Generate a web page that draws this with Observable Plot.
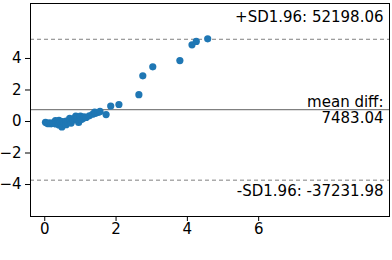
<!DOCTYPE html>
<html>
<head>
<meta charset="utf-8">
<script src="https://cdn.jsdelivr.net/npm/d3@7"></script>
<script src="https://cdn.jsdelivr.net/npm/@observablehq/plot@0.6"></script>
<style>
  html, body { margin: 0; padding: 0; background: #fff; }
</style>
</head>
<body>
<div id="chart"></div>
<script>
// Bland-Altman style data (values in units of 1e4)
const meanVals = [0.02, 0.06, 0.10, 0.14, 0.18, 0.22, 0.27, 0.30, 0.31, 0.36, 0.40, 0.40, 0.44, 0.47, 0.48, 0.50, 0.55, 0.60, 0.60, 0.65, 0.70, 0.70, 0.74, 0.79, 0.84, 0.87, 0.90, 0.94, 0.95, 0.98, 1.00, 1.03, 1.08, 1.10, 1.16, 1.25, 1.34, 1.40, 1.42, 1.50, 1.55, 1.72, 1.85, 2.08, 2.64, 2.75, 3.03, 3.79, 4.13, 4.25, 4.57];
const diffVals = [-0.05, -0.10, -0.14, -0.08, -0.15, -0.10, -0.05, 0.05, -0.16, -0.12, 0.08, -0.22, -0.02, -0.20, -0.35, 0.00, -0.10, 0.02, -0.20, -0.04, 0.06, 0.20, -0.10, 0.10, 0.22, 0.34, 0.18, 0.08, -0.06, 0.16, 0.35, 0.12, 0.20, 0.30, 0.26, 0.36, 0.46, 0.60, 0.52, 0.57, 0.64, 0.44, 0.98, 1.08, 1.70, 2.90, 3.47, 3.87, 4.87, 5.08, 5.25];

const meanDiff = 0.748304;
const upperLoA = 5.219806;
const lowerLoA = -3.723198;

const lineValues = [upperLoA, meanDiff, lowerLoA];
const lineDash = ["4,3", null, "4,3"];
const lineLabels = ["+SD1.96: 52198.06", "mean diff:\n7483.04", "-SD1.96: -37231.98"];
const labelOffsets = [-23, 0, 11];

const xTicks = [0, 2, 4, 6];
const yTicks = [-4, -2, 0, 2, 4];

const points = meanVals.map((m, i) => ({x: m, y: diffVals[i]}));
const lines = lineValues.map((v, i) => ({y: v, dash: lineDash[i], label: lineLabels[i], dy: labelOffsets[i]}));

const chart = Plot.plot({
  width: 392,
  height: 260,
  marginLeft: 30,
  marginRight: 3,
  marginTop: 3,
  marginBottom: 44,
  style: {fontFamily: "DejaVu Sans", fontSize: "15px", color: "#000", background: "#fff"},
  x: {domain: [-0.4, 9.67], ticks: xTicks, label: null, tickSize: 5, tickPadding: 2},
  y: {domain: [-6.03, 7.49], ticks: yTicks, label: null, tickSize: 5, tickPadding: 4},
  marks: [
    Plot.ruleY(lines.filter(d => d.dash), {y: "y", stroke: "#808080", strokeWidth: 1, strokeDasharray: "4,3"}),
    Plot.ruleY(lines.filter(d => !d.dash), {y: "y", stroke: "#808080", strokeWidth: 1.2}),
    Plot.dot(points, {x: "x", y: "y", r: 3.6, fill: "#1f77b4", stroke: "none"}),
    ...lines.map(d => Plot.text([d], {y: "y", text: "label", frameAnchor: "right", textAnchor: "end", dx: -6, dy: d.dy, lineAnchor: "middle", lineHeight: 1.1, fontSize: 15, fill: "#000"})),
    Plot.frame({stroke: "#000", strokeWidth: 1})
  ]
});
document.getElementById("chart").appendChild(chart);
</script>
</body>
</html>
